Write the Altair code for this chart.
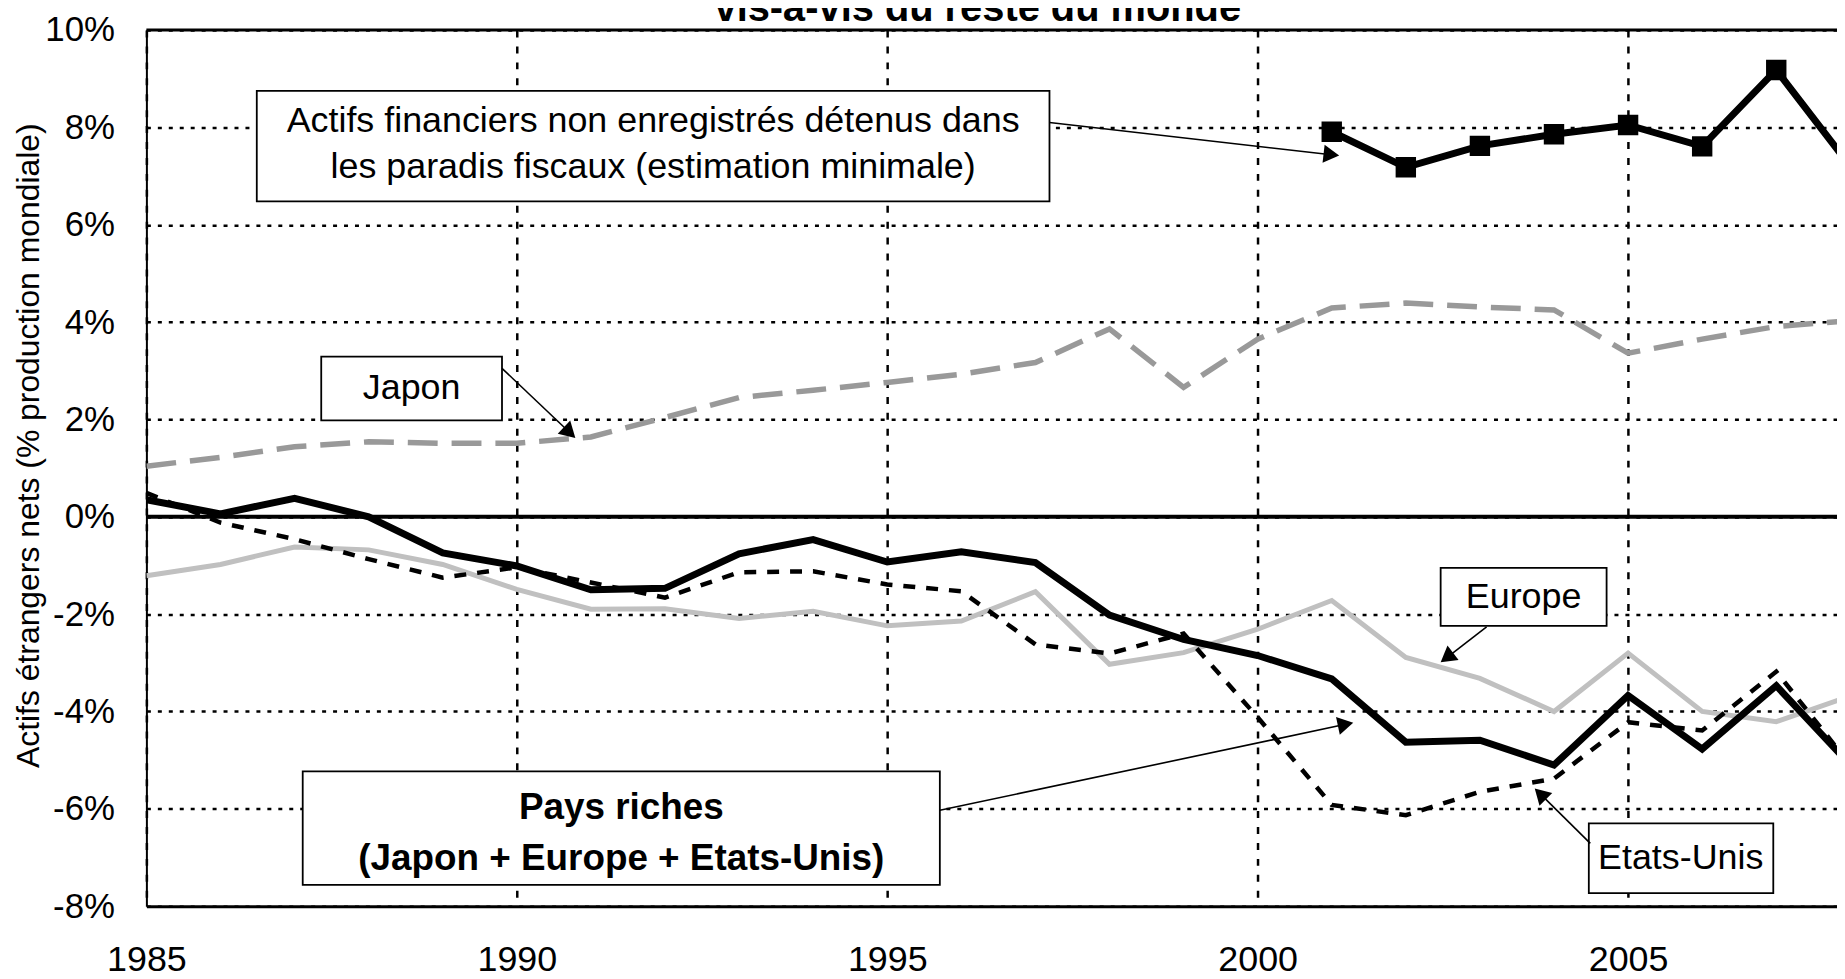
import math
import altair as alt
import pandas as pd

# ---------------- data ----------------
annees = list(range(1985, 2009))
pays_riches = [0.35, 0.06, 0.38, 0.0, -0.74, -1.01, -1.50, -1.47, -0.76, -0.47, -0.93, -0.72,
               -0.94, -2.02, -2.52, -2.85, -3.33, -4.63, -4.59, -5.10, -3.67, -4.77, -3.47, -5.10]
japon = [1.04, 1.22, 1.44, 1.54, 1.51, 1.51, 1.64, 2.04, 2.45, 2.60, 2.76, 2.93,
         3.17, 3.86, 2.66, 3.65, 4.29, 4.39, 4.31, 4.25, 3.36, 3.65, 3.91, 4.03]
europe = [-1.21, -0.98, -0.62, -0.68, -0.98, -1.49, -1.90, -1.89, -2.09, -1.94, -2.24, -2.14,
          -1.54, -3.03, -2.79, -2.31, -1.72, -2.89, -3.32, -4.00, -2.80, -4.00, -4.21, -3.68]
etats_unis = [0.49, -0.12, -0.46, -0.87, -1.25, -1.04, -1.35, -1.66, -1.14, -1.12, -1.39, -1.53,
              -2.62, -2.81, -2.40, -4.12, -5.92, -6.13, -5.65, -5.38, -4.22, -4.39, -3.18, -5.10]
annees_paradis = list(range(2001, 2009))
paradis = [7.91, 7.18, 7.62, 7.86, 8.05, 7.61, 9.18, 7.20]

x_ticks = [1985, 1990, 1995, 2000, 2005]
y_ticks = [-8, -6, -4, -2, 0, 2, 4, 6, 8, 10]

titre = "vis-à-vis du reste du monde"
titre_axe_y = "Actifs étrangers nets (% production mondiale)"

# annotation boxes (data units: year, %)
boites = [
    {"x": 1986.49, "x2": 1997.19, "y": 8.75, "y2": 6.48},
    {"x": 1987.36, "x2": 1989.80, "y": 3.29, "y2": 1.98},
    {"x": 2002.47, "x2": 2004.71, "y": -1.05, "y2": -2.24},
    {"x": 2004.47, "x2": 2006.96, "y": -6.30, "y2": -7.73},
    {"x": 1987.11, "x2": 1995.71, "y": -5.23, "y2": -7.56},
]
textes = [
    {"x": 1991.84, "y": 8.14, "t": "Actifs financiers non enregistrés détenus dans"},
    {"x": 1991.84, "y": 7.18, "t": "les paradis fiscaux (estimation minimale)"},
    {"x": 1988.58, "y": 2.64, "t": "Japon"},
    {"x": 2003.59, "y": -1.64, "t": "Europe"},
    {"x": 2005.71, "y": -7.01, "t": "Etats-Unis"},
]
textes_gras = [
    {"x": 1991.41, "y": -5.98, "t": "Pays riches"},
    {"x": 1991.41, "y": -7.03, "t": "(Japon + Europe + Etats-Unis)"},
]
fleches = [
    {"x": 1997.19, "y": 8.10, "x2": 2001.10, "y2": 7.42},
    {"x": 1989.80, "y": 3.05, "x2": 1990.79, "y2": 1.62},
    {"x": 2003.09, "y": -2.26, "x2": 2002.47, "y2": -2.99},
    {"x": 2004.49, "y": -6.71, "x2": 2003.74, "y2": -5.58},
    {"x": 1995.71, "y": -6.03, "x2": 2001.29, "y2": -4.23},
]

# ---------------- layout ----------------
X_DOM = [1985, 2007.82]
Y_DOM = [-8, 10]
W, H = 1698, 880
PXX = W / (X_DOM[1] - X_DOM[0])
PXY = H / (Y_DOM[1] - Y_DOM[0])
FONT = "Liberation Sans"

xs = alt.Scale(domain=X_DOM, nice=False, zero=False)
ys = alt.Scale(domain=Y_DOM, nice=False, zero=False)

AX_X = alt.Axis(
    values=x_ticks, format="d", labelFont=FONT, labelFontSize=36, labelColor="black",
    labelPadding=37, labelFlush=False, labelOverlap=False, ticks=False,
    domain=True, domainColor="black", domainWidth=3,
    grid=True, gridColor="black", gridDash=[7, 9], gridWidth=2.5, title=None)
AX_Y = alt.Axis(
    values=y_ticks, labelExpr="datum.value + '%'", labelFont=FONT, labelFontSize=35,
    labelColor="black", labelPadding=32, labelFlush=False, labelOverlap=False,
    labelBaseline="middle", ticks=False,
    domain=True, domainColor="black", domainWidth=2,
    grid=True, gridColor="black", gridDash=[4, 7], gridWidth=2.5,
    title=titre_axe_y, titleFont=FONT, titleFontSize=32, titleFontWeight="normal",
    titleColor="black", titleAngle=270, titleBaseline="bottom", titleAlign="center",
    titleX=-101, titleY=417)


def ex(f="x"):
    return alt.X(f"{f}:Q", scale=xs, axis=AX_X)


def ey(f="y"):
    return alt.Y(f"{f}:Q", scale=ys, axis=AX_Y)


zero = alt.Chart(pd.DataFrame({"x": [1985], "x2": [2007.82], "y": [0]})).mark_rule(
    color="black", strokeWidth=4).encode(x=ex(), x2="x2", y=ey())
haut = alt.Chart(pd.DataFrame({"x": [1985], "x2": [2007.82], "y": [10]})).mark_rule(
    color="black", strokeWidth=3).encode(x=ex(), x2="x2", y=ey())


def ligne(xv, yv, color, width, dash=None):
    df = pd.DataFrame({"x": xv, "y": yv})
    kw = dict(color=color, strokeWidth=width, clip=True)
    if dash:
        kw["strokeDash"] = dash
    return alt.Chart(df).mark_line(**kw).encode(x=ex(), y=ey())


l_europe = ligne(annees, europe, "#c0c0c0", 5)
l_japon = ligne(annees, japon, "#999999", 5.5, [30, 14])
l_us = ligne(annees, etats_unis, "black", 4.5, [12, 11])
l_riches = ligne(annees, pays_riches, "black", 7)
l_paradis = ligne(annees_paradis, paradis, "black", 7)
p_paradis = alt.Chart(pd.DataFrame({"x": annees_paradis, "y": paradis})).mark_point(
    shape="square", filled=True, color="black", opacity=1, size=420, clip=True
).encode(x=ex(), y=ey())

rects = alt.Chart(pd.DataFrame(boites)).mark_rect(
    fill="white", stroke="black", strokeWidth=1.8
).encode(x=ex(), x2="x2", y=ey(), y2="y2")

# arrows
rows = []
HEAD = 330
h = math.sqrt(3) * (math.sqrt(HEAD) / 2) / 2
for f in fleches:
    dxp = (f["x2"] - f["x"]) * PXX
    dyp = -(f["y2"] - f["y"]) * PXY
    L = math.hypot(dxp, dyp)
    ux, uy = dxp / L, dyp / L
    ang = math.degrees(math.atan2(ux, -uy)) % 360
    cx = f["x2"] - ux * h / PXX
    cy = f["y2"] + uy * h / PXY
    rows.append({"x": f["x"], "y": f["y"], "x2": f["x2"] - ux * h / PXX,
                 "y2": f["y2"] + uy * h / PXY, "cx": cx, "cy": cy, "ang": ang})
df_fl = pd.DataFrame(rows)
fl_lignes = alt.Chart(df_fl).mark_rule(color="black", strokeWidth=1.6).encode(
    x=ex(), y=ey(), x2="x2", y2="y2")
fl_tetes = alt.Chart(df_fl).mark_point(
    shape="triangle-up", filled=True, color="black", opacity=1, size=HEAD
).encode(x=ex("cx"), y=ey("cy"), angle=alt.Angle("ang:Q", scale=None))

t_reg = alt.Chart(pd.DataFrame(textes)).mark_text(
    font=FONT, fontSize=36, color="black", align="center", baseline="middle"
).encode(x=ex(), y=ey(), text="t:N")
t_gras = alt.Chart(pd.DataFrame(textes_gras)).mark_text(
    font=FONT, fontSize=37, fontWeight="bold", color="black", align="center", baseline="middle"
).encode(x=ex(), y=ey(), text="t:N")

# chart title, cut by the top edge as in the reference
t_titre = alt.Chart(pd.DataFrame({"t": [titre]})).mark_text(
    font=FONT, fontSize=40, fontWeight="bold", color="black", align="center",
    baseline="alphabetic"
).encode(x=alt.value(W / 2 - 14), y=alt.value(-9), text="t:N")

chart = alt.layer(
    zero, haut, l_europe, l_japon, l_us, l_riches, l_paradis, p_paradis,
    rects, fl_lignes, fl_tetes, t_reg, t_gras, t_titre
).properties(
    width=W, height=H,
    padding={"left": 139, "top": 20, "right": 0, "bottom": 71},
    autosize=alt.AutoSizeParams(type="none"),
).configure_view(stroke=None).configure(background="white")

chart.save("out.html", embed_options={"renderer": "svg", "actions": False})
